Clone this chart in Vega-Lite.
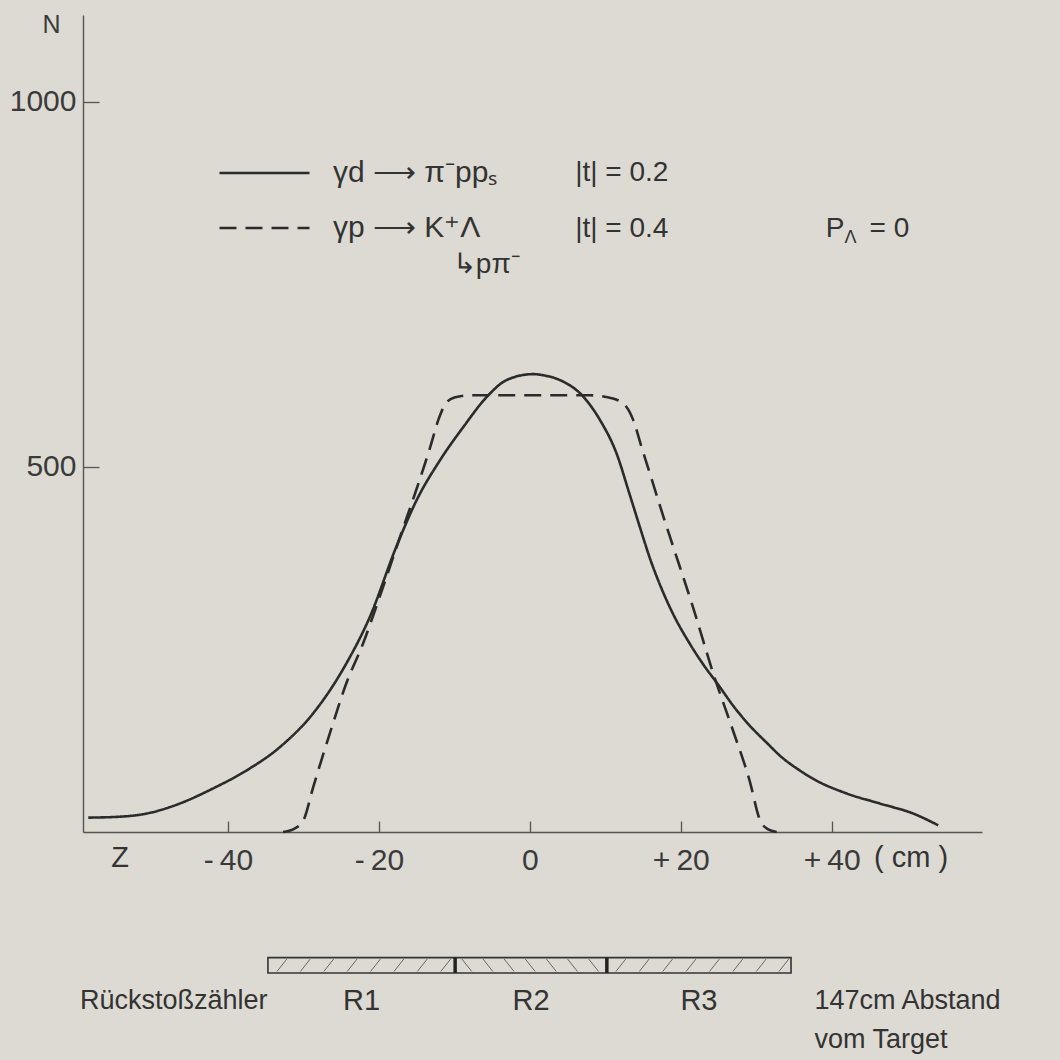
{
  "$schema": "https://vega.github.io/schema/vega-lite/v6.json",
  "width": 899,
  "height": 817,
  "autosize": {"type": "none"},
  "padding": {"left": 83, "top": 15, "right": 78, "bottom": 228},
  "background": "#dcdad2",
  "config": {
    "view": {"stroke": null},
    "font": "Liberation Sans",
    "axis": {"grid": false, "domainColor": "#555555", "domainWidth": 1.4, "tickColor": "#555555", "tickWidth": 1.3, "labelColor": "#3a3a3a", "labelFont": "Liberation Sans", "labelFontSize": 30}
  },
  "datasets": {
    "curves": [
      {"reaction": "γd ⟶ π⁻ppₛ", "z": -58.5, "N": 19.7},
      {"reaction": "γd ⟶ π⁻ppₛ", "z": -55.2, "N": 20.5},
      {"reaction": "γd ⟶ π⁻ppₛ", "z": -50.8, "N": 25.2},
      {"reaction": "γd ⟶ π⁻ppₛ", "z": -46.4, "N": 38.9},
      {"reaction": "γd ⟶ π⁻ppₛ", "z": -42.0, "N": 59.5},
      {"reaction": "γd ⟶ π⁻ppₛ", "z": -37.5, "N": 84.5},
      {"reaction": "γd ⟶ π⁻ppₛ", "z": -33.1, "N": 116.4},
      {"reaction": "γd ⟶ π⁻ppₛ", "z": -28.7, "N": 162.6},
      {"reaction": "γd ⟶ π⁻ppₛ", "z": -24.3, "N": 231},
      {"reaction": "γd ⟶ π⁻ppₛ", "z": -21.2, "N": 294.5},
      {"reaction": "γd ⟶ π⁻ppₛ", "z": -17.7, "N": 390.4},
      {"reaction": "γd ⟶ π⁻ppₛ", "z": -15.0, "N": 454.4},
      {"reaction": "γd ⟶ π⁻ppₛ", "z": -11.9, "N": 509.2},
      {"reaction": "γd ⟶ π⁻ppₛ", "z": -8.8, "N": 554.8},
      {"reaction": "γd ⟶ π⁻ppₛ", "z": -5.7, "N": 595.9},
      {"reaction": "γd ⟶ π⁻ppₛ", "z": -3.1, "N": 618.8},
      {"reaction": "γd ⟶ π⁻ppₛ", "z": 0.4, "N": 627},
      {"reaction": "γd ⟶ π⁻ppₛ", "z": 2.0, "N": 625},
      {"reaction": "γd ⟶ π⁻ppₛ", "z": 4.0, "N": 618.8},
      {"reaction": "γd ⟶ π⁻ppₛ", "z": 7.1, "N": 595.9},
      {"reaction": "γd ⟶ π⁻ppₛ", "z": 9.3, "N": 564},
      {"reaction": "γd ⟶ π⁻ppₛ", "z": 11.5, "N": 518},
      {"reaction": "γd ⟶ π⁻ppₛ", "z": 13.2, "N": 463},
      {"reaction": "γd ⟶ π⁻ppₛ", "z": 14.5, "N": 420},
      {"reaction": "γd ⟶ π⁻ppₛ", "z": 16.0, "N": 372},
      {"reaction": "γd ⟶ π⁻ppₛ", "z": 17.5, "N": 332},
      {"reaction": "γd ⟶ π⁻ppₛ", "z": 19.0, "N": 298},
      {"reaction": "γd ⟶ π⁻ppₛ", "z": 21.0, "N": 261},
      {"reaction": "γd ⟶ π⁻ppₛ", "z": 23.0, "N": 229},
      {"reaction": "γd ⟶ π⁻ppₛ", "z": 25.0, "N": 201},
      {"reaction": "γd ⟶ π⁻ppₛ", "z": 27.0, "N": 172},
      {"reaction": "γd ⟶ π⁻ppₛ", "z": 29.1, "N": 146},
      {"reaction": "γd ⟶ π⁻ppₛ", "z": 31.4, "N": 122},
      {"reaction": "γd ⟶ π⁻ppₛ", "z": 33.3, "N": 103},
      {"reaction": "γd ⟶ π⁻ppₛ", "z": 35.8, "N": 84},
      {"reaction": "γd ⟶ π⁻ppₛ", "z": 37.5, "N": 73},
      {"reaction": "γd ⟶ π⁻ppₛ", "z": 41.9, "N": 53},
      {"reaction": "γd ⟶ π⁻ppₛ", "z": 46.4, "N": 38.9},
      {"reaction": "γd ⟶ π⁻ppₛ", "z": 50.8, "N": 25.2},
      {"reaction": "γd ⟶ π⁻ppₛ", "z": 54.1, "N": 9.2},
      {"reaction": "γp ⟶ K⁺Λ", "z": -32.7, "N": 0},
      {"reaction": "γp ⟶ K⁺Λ", "z": -31.3, "N": 4},
      {"reaction": "γp ⟶ K⁺Λ", "z": -30.0, "N": 16},
      {"reaction": "γp ⟶ K⁺Λ", "z": -28.7, "N": 61.6},
      {"reaction": "γp ⟶ K⁺Λ", "z": -26.5, "N": 135},
      {"reaction": "γp ⟶ K⁺Λ", "z": -24.3, "N": 204},
      {"reaction": "γp ⟶ K⁺Λ", "z": -22.1, "N": 258},
      {"reaction": "γp ⟶ K⁺Λ", "z": -20.3, "N": 310},
      {"reaction": "γp ⟶ K⁺Λ", "z": -17.2, "N": 404},
      {"reaction": "γp ⟶ K⁺Λ", "z": -15.0, "N": 470},
      {"reaction": "γp ⟶ K⁺Λ", "z": -13.2, "N": 527},
      {"reaction": "γp ⟶ K⁺Λ", "z": -12.1, "N": 565},
      {"reaction": "γp ⟶ K⁺Λ", "z": -11.2, "N": 586},
      {"reaction": "γp ⟶ K⁺Λ", "z": -10.0, "N": 595},
      {"reaction": "γp ⟶ K⁺Λ", "z": -7.9, "N": 598},
      {"reaction": "γp ⟶ K⁺Λ", "z": 0, "N": 598},
      {"reaction": "γp ⟶ K⁺Λ", "z": 8.0, "N": 598},
      {"reaction": "γp ⟶ K⁺Λ", "z": 11.0, "N": 593.7},
      {"reaction": "γp ⟶ K⁺Λ", "z": 12.8, "N": 582},
      {"reaction": "γp ⟶ K⁺Λ", "z": 13.7, "N": 564},
      {"reaction": "γp ⟶ K⁺Λ", "z": 14.8, "N": 527},
      {"reaction": "γp ⟶ K⁺Λ", "z": 15.9, "N": 491},
      {"reaction": "γp ⟶ K⁺Λ", "z": 17.7, "N": 431.5},
      {"reaction": "γp ⟶ K⁺Λ", "z": 19.0, "N": 390.4},
      {"reaction": "γp ⟶ K⁺Λ", "z": 21.6, "N": 308.2},
      {"reaction": "γp ⟶ K⁺Λ", "z": 24.3, "N": 217},
      {"reaction": "γp ⟶ K⁺Λ", "z": 26.9, "N": 139.3},
      {"reaction": "γp ⟶ K⁺Λ", "z": 29.1, "N": 70.8},
      {"reaction": "γp ⟶ K⁺Λ", "z": 30.5, "N": 16},
      {"reaction": "γp ⟶ K⁺Λ", "z": 31.5, "N": 4},
      {"reaction": "γp ⟶ K⁺Λ", "z": 32.7, "N": 0}
    ],
    "notes": [
      {"text": "|t| = 0.2", "z": 6.0, "N": 902},
      {"text": "|t| = 0.4", "z": 6.0, "N": 826},
      {"text": "P", "z": 39.2, "N": 826},
      {"text": "= 0", "z": 45.0, "N": 826},
      {"text": "↳pπ⁻", "z": -10.2, "N": 777}
    ],
    "subscripts": [
      {"text": "Λ", "z": 41.7, "N": 813}
    ],
    "footer": [
      {"text": "Rückstoßzähler", "z": -59.6, "N": -232},
      {"text": "147cm Abstand", "z": 37.7, "N": -232},
      {"text": "vom Target", "z": 37.7, "N": -285}
    ],
    "centered": [
      {"text": "Z", "z": -54.3, "N": -35.3},
      {"text": "( cm )", "z": 50.5, "N": -35.3},
      {"text": "R1", "z": -22.3, "N": -232},
      {"text": "R2", "z": 0.15, "N": -232},
      {"text": "R3", "z": 22.4, "N": -232}
    ],
    "counter": [
      {"from": -34.7, "to": 34.6}
    ],
    "dividers": [
      {"z": -9.9},
      {"z": 10.2}
    ],
    "hatch": [
      {"zb": -33.5, "zt": -32.2},
      {"zb": -30.4, "zt": -29.1},
      {"zb": -27.3, "zt": -26.0},
      {"zb": -24.2, "zt": -22.9},
      {"zb": -21.1, "zt": -19.8},
      {"zb": -18.0, "zt": -16.7},
      {"zb": -14.9, "zt": -13.6},
      {"zb": -11.8, "zt": -10.5},
      {"zb": -7.7, "zt": -9.0},
      {"zb": -4.9, "zt": -6.2},
      {"zb": -2.1, "zt": -3.4},
      {"zb": 0.7, "zt": -0.6},
      {"zb": 3.5, "zt": 2.2},
      {"zb": 6.3, "zt": 5.0},
      {"zb": 9.1, "zt": 7.8},
      {"zb": 11.4, "zt": 12.7},
      {"zb": 14.5, "zt": 15.8},
      {"zb": 17.6, "zt": 18.9},
      {"zb": 20.7, "zt": 22.0},
      {"zb": 23.8, "zt": 25.1},
      {"zb": 26.9, "zt": 28.2},
      {"zb": 30.0, "zt": 31.3},
      {"zb": 33.0, "zt": 34.3}
    ]
  },
  "layer": [
    {
      "data": {"name": "curves"},
      "mark": {"type": "line", "interpolate": "monotone", "strokeWidth": 2.6, "color": "#2b2b2b"},
      "encoding": {
        "x": {
          "field": "z", "type": "quantitative",
          "scale": {"domain": [-59.2, 59.9], "nice": false, "zero": false},
          "axis": {
            "title": null, "values": [-40, -20, 0, 20, 40], "tickSize": -11, "labelPadding": 24,
            "labelExpr": "datum.value < 0 ? '-\u2009' + abs(datum.value) : (datum.value > 0 ? '+\u2009' + datum.value : '0')",
            "encode": {"labels": {"update": {"dx": {"signal": "datum.value == 0 ? 0 : -5"}}}}
          }
        },
        "y": {
          "field": "N", "type": "quantitative",
          "scale": {"domain": [0, 1118.8], "nice": false},
          "axis": {
            "title": "N", "titleAngle": 0, "titleX": -32, "titleY": 9, "titleAlign": "center", "titleBaseline": "middle",
            "titleFont": "Liberation Sans", "titleFontSize": 25, "titleFontWeight": "normal", "titleColor": "#3a3a3a",
            "values": [500, 1000], "format": "d", "tickSize": -16, "labelPadding": 23
          }
        },
        "strokeDash": {
          "field": "reaction", "type": "nominal",
          "scale": {"domain": ["γd ⟶ π⁻ppₛ", "γp ⟶ K⁺Λ"], "range": [[1, 0], [17, 9]]},
          "legend": {
            "title": null, "orient": "none", "legendX": 135, "legendY": 143, "padding": 0,
            "symbolType": "stroke", "symbolSize": 8100, "symbolStrokeWidth": 2.5, "symbolStrokeColor": "#2b2b2b",
            "labelFont": "Liberation Sans", "labelFontSize": 30, "labelColor": "#333333", "labelOffset": 22, "labelLimit": 400,
            "clipHeight": 30, "rowPadding": 25
          }
        }
      }
    },
    {
      "data": {"name": "notes"},
      "mark": {"type": "text", "align": "left", "baseline": "middle", "fontSize": 28, "color": "#333333"},
      "encoding": {
        "x": {"field": "z", "type": "quantitative"},
        "y": {"field": "N", "type": "quantitative"},
        "text": {"field": "text"}
      }
    },
    {
      "data": {"name": "subscripts"},
      "mark": {"type": "text", "align": "left", "baseline": "middle", "fontSize": 18, "color": "#333333"},
      "encoding": {
        "x": {"field": "z", "type": "quantitative"},
        "y": {"field": "N", "type": "quantitative"},
        "text": {"field": "text"}
      }
    },
    {
      "data": {"name": "footer"},
      "mark": {"type": "text", "align": "left", "baseline": "middle", "fontSize": 27, "color": "#333333"},
      "encoding": {
        "x": {"field": "z", "type": "quantitative"},
        "y": {"field": "N", "type": "quantitative"},
        "text": {"field": "text"}
      }
    },
    {
      "data": {"name": "centered"},
      "mark": {"type": "text", "align": "center", "baseline": "middle", "fontSize": 29, "color": "#333333"},
      "encoding": {
        "x": {"field": "z", "type": "quantitative"},
        "y": {"field": "N", "type": "quantitative"},
        "text": {"field": "text"}
      }
    },
    {
      "data": {"name": "hatch"},
      "mark": {"type": "rule", "strokeWidth": 1, "color": "#666666"},
      "encoding": {
        "x": {"field": "zb", "type": "quantitative"},
        "x2": {"field": "zt"},
        "y": {"datum": -191},
        "y2": {"datum": -174}
      }
    },
    {
      "data": {"name": "counter"},
      "mark": {"type": "rect", "fill": "transparent", "stroke": "#333333", "strokeWidth": 1.6},
      "encoding": {
        "x": {"field": "from", "type": "quantitative"},
        "x2": {"field": "to"},
        "y": {"datum": -193},
        "y2": {"datum": -172}
      }
    },
    {
      "data": {"name": "dividers"},
      "mark": {"type": "rule", "strokeWidth": 3.5, "color": "#222222"},
      "encoding": {
        "x": {"field": "z", "type": "quantitative"},
        "y": {"datum": -193},
        "y2": {"datum": -172}
      }
    }
  ]
}
